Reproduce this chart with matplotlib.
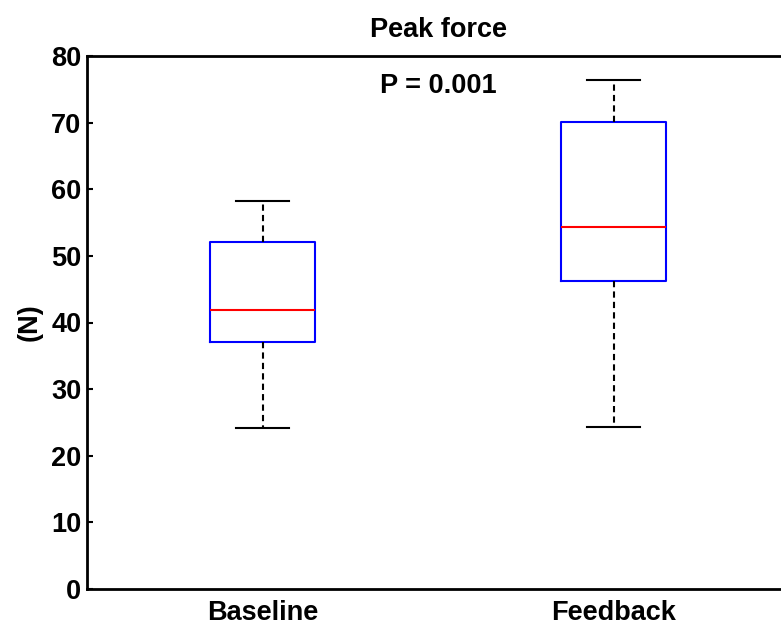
import matplotlib
matplotlib.use('Agg')
import matplotlib.pyplot as plt

# values
groups = ['Baseline', 'Feedback']
whisker_low = [24.2, 24.3]
q1 = [37.1, 46.2]
median = [41.9, 54.3]
q3 = [52.1, 70.1]
whisker_high = [58.2, 76.4]
p_text = 'P = 0.001'

plt.rcParams['font.family'] = ['Liberation Sans', 'DejaVu Sans']
plt.rcParams['font.weight'] = 'bold'

fig = plt.figure(figsize=(7.81, 6.3), dpi=100)
ax = fig.add_axes([87 / 781, 41 / 630, 702 / 781, 533 / 630])

stats = []
for i in range(len(groups)):
    stats.append({'whislo': whisker_low[i], 'q1': q1[i], 'med': median[i],
                  'q3': q3[i], 'whishi': whisker_high[i], 'label': groups[i]})

ax.bxp(stats, positions=[1, 2], widths=0.3, showfliers=False,
       boxprops=dict(color='blue', linewidth=1.5),
       medianprops=dict(color='red', linewidth=1.5),
       whiskerprops=dict(color='black', linewidth=1.5, linestyle=(0, (3, 2))),
       capprops=dict(color='black', linewidth=1.5),
       capwidths=0.15)

ax.set_xlim(0.5, 2.5)
ax.set_ylim(0, 80)
ax.set_yticks(range(0, 81, 10))
ax.tick_params(axis='y', direction='in', length=4, width=1.5, labelsize=19.5, pad=4)
ax.tick_params(axis='x', length=0, labelsize=19.5, pad=8)
for lab in ax.get_xticklabels() + ax.get_yticklabels():
    lab.set_fontweight('bold')
for sp in ax.spines.values():
    sp.set_linewidth(2)

ax.set_title('Peak force', fontsize=19.5, fontweight='bold', pad=14)
ax.set_ylabel('(N)', fontsize=19.5, fontweight='bold', labelpad=6)
ax.text(1.5, 75.5, p_text, ha='center', va='center', fontsize=19.5, fontweight='bold')

fig.savefig('out.png', dpi=100)
